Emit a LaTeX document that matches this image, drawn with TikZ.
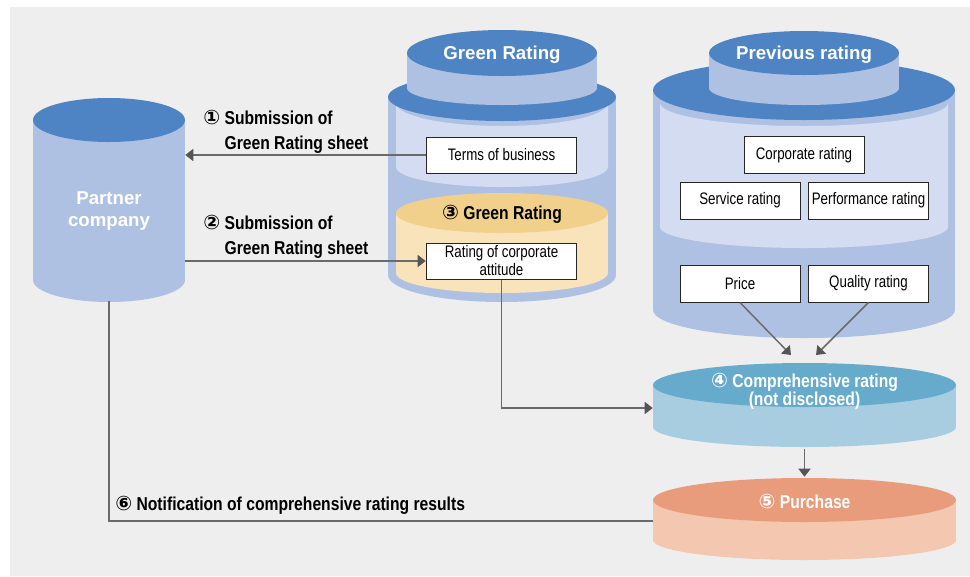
\documentclass[tikz,border=0pt]{standalone}
\usepackage{fontspec}
\setmainfont{Liberation Sans}
\newfontfamily\cond{Liberation Sans}[FakeStretch=0.8]
\newfontfamily\condb{Liberation Sans}[FakeStretch=0.84]
\newfontfamily\sym{DejaVu Sans}
\usetikzlibrary{arrows.meta}
\definecolor{bg}{HTML}{EEEEEE}
\definecolor{dblue}{HTML}{4F84C4}
\definecolor{mblue}{HTML}{AFC1E3}
\definecolor{lblue}{HTML}{D3DCF1}
\definecolor{dyel}{HTML}{F0D08A}
\definecolor{lyel}{HTML}{F8E3BA}
\definecolor{dteal}{HTML}{66ABCB}
\definecolor{lteal}{HTML}{A8CDE1}
\definecolor{dsal}{HTML}{E89C7B}
\definecolor{lsal}{HTML}{F3C7B0}
\definecolor{conn}{HTML}{6A6A6A}
\definecolor{tipc}{HTML}{555555}
\newcommand\cnum[1]{{\sym\bfseries\fontsize{15}{15}\selectfont #1}}
\tikzset{
 rbox/.style={draw=black!85, line width=0.75pt, fill=white, minimum width=113pt, minimum height=27pt, inner sep=1pt, font=\cond\fontsize{12.5}{13.5}\selectfont, align=center},
 sbox/.style={rbox, minimum width=90pt, minimum height=27.75pt},
 conline/.style={draw=conn, line width=1.1pt},
 arr/.style={conline, -{Triangle[length=6pt,width=9pt,color=tipc]}},
 lab/.style={font=\condb\bfseries\fontsize{14}{18.75}\selectfont, align=left, inner sep=0pt, anchor=west},
 cyltext/.style={font=\condb\bfseries\fontsize{14}{13.5}\selectfont, align=center, inner sep=0pt},
 title/.style={font=\bfseries\fontsize{14}{16}\selectfont, text=white, align=center},
 hold/.style={inner sep=0pt, minimum width=227.25pt},
}
\begin{document}
\begin{tikzpicture}[x=0.75pt,y=0.75pt]
\useasboundingbox (0,0) rectangle (970,-576);
\fill[bg] (10,-7) rectangle (970,-576);

% Partner company
\fill[mblue] (33,-120) rectangle (185,-280);
\fill[mblue] (109,-280) ellipse[x radius=76,y radius=22];
\fill[dblue] (109,-120) ellipse[x radius=76,y radius=22];
\node[title, minimum width=114pt, minimum height=135pt, inner sep=0pt] (partner) at (109,-211) {Partner\\company};

% Green Rating cylinder
\fill[mblue] (388,-97) rectangle (616,-275);
\fill[mblue] (502,-275) ellipse[x radius=114,y radius=27];
\fill[lblue] (396,-103) arc[start angle=180,end angle=360,x radius=106,y radius=23] -- (608,-167) arc[start angle=0,end angle=-180,x radius=106,y radius=20] -- cycle;
\fill[lyel] (396,-213) rectangle (608,-273);
\fill[lyel] (502,-273) ellipse[x radius=106,y radius=20];
\fill[dyel] (502,-213) ellipse[x radius=106,y radius=20];
\fill[dblue] (502,-97) ellipse[x radius=114,y radius=24];
\fill[mblue] (407,-53) rectangle (597,-88);
\fill[mblue] (502,-88) ellipse[x radius=95,y radius=17];
\fill[dblue] (502,-53) ellipse[x radius=95,y radius=23];
\node[title] (grt) at (502,-55) {Green Rating};
\node[cyltext] (gr3) at (502,-214) {\cnum{③} Green Rating};
\node[rbox] (terms) at (501.5,-155) {Terms of business};
\node[rbox] (att) at (501.5,-261) {Rating of corporate\\attitude};

% Previous rating cylinder
\fill[mblue] (653,-90) rectangle (955,-310);
\fill[mblue] (804,-310) ellipse[x radius=151,y radius=28];
\fill[lblue] (660,-103) arc[start angle=180,end angle=360,x radius=144,y radius=23] -- (948,-227) arc[start angle=0,end angle=-180,x radius=144,y radius=21] -- cycle;
\fill[dblue] (804,-90) ellipse[x radius=151,y radius=30];
\fill[mblue] (709,-53) rectangle (899,-88);
\fill[mblue] (804,-88) ellipse[x radius=95,y radius=17];
\fill[dblue] (804,-53) ellipse[x radius=95,y radius=22];
\node[title] (prt) at (804,-55) {Previous rating};
\node[sbox] (corp) at (804,-155) {Corporate rating};
\node[sbox] (serv) at (740,-200.5) {Service rating};
\node[sbox] (perf) at (868.5,-200.5) {Performance rating};
\node[sbox] (price) at (740,-283.5) {Price};
\node[sbox] (qual) at (868.5,-283.5) {Quality rating};

% Comprehensive rating cylinder
\fill[lteal] (653,-385) rectangle (956,-427);
\fill[lteal] (804.5,-427) ellipse[x radius=151.5,y radius=20];
\fill[dteal] (804.5,-385) ellipse[x radius=151.5,y radius=22];
\node[hold, minimum height=61.5pt] (comp) at (804.5,-408) {};
\node[cyltext, text=white] (comptxt) at (804.5,-391) {\cnum{④} Comprehensive rating\\(not disclosed)};

% Purchase cylinder
\fill[lsal] (653,-500) rectangle (956,-540);
\fill[lsal] (804.5,-540) ellipse[x radius=151.5,y radius=20];
\fill[dsal] (804.5,-500) ellipse[x radius=151.5,y radius=22];
\node[hold, minimum height=66pt] (purch) at (804.5,-521) {};
\node[cyltext, text=white] (purtxt) at (804.5,-501) {\cnum{⑤} Purchase};

% Labels
\node[lab] (l1) at (203,-131.5) {\cnum{①} Submission of\\\hphantom{\cnum{①} }Green Rating sheet};
\node[lab] (l2) at (203,-237) {\cnum{②} Submission of\\\hphantom{\cnum{②} }Green Rating sheet};
\node[lab] (l6) at (115,-505) {\cnum{⑥} Notification of comprehensive rating results};

% Connectors
\coordinate (c1) at (791,-355);
\coordinate (c2) at (816,-355);
\draw[arr] (terms.west) -- (terms.west -| partner.east);
\draw[arr] (att.west -| partner.east) -- (att.west);
\draw[arr] (att.south) |- (comp.west);
\draw[arr] (price.south) -- (c1);
\draw[arr] (qual.south) -- (c2);
\draw[arr] (comp.south) -- (purch.north);
\draw[conline] (partner.south) |- (purch.west);
\end{tikzpicture}
\end{document}
